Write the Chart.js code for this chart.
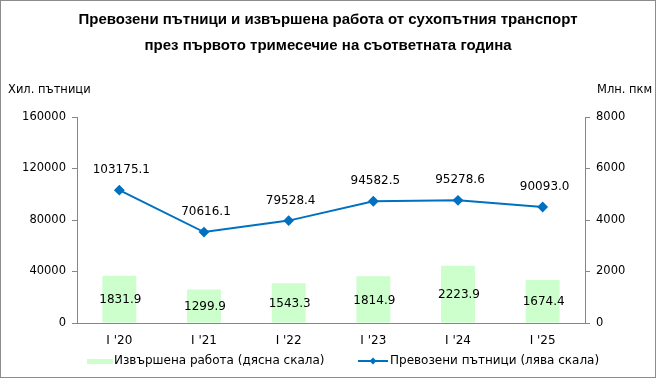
<!DOCTYPE html>
<html>
<head>
<meta charset="utf-8">
<script src="https://cdn.jsdelivr.net/npm/chart.js@4/dist/chart.umd.min.js"></script>
<style>
    html, body { margin: 0; padding: 0; background: #fff; }
    #wrap { position: relative; width: 656px; height: 378px; }
    #wrap canvas { position: absolute; left: 0; top: 0; }
    #frame { position: absolute; left: 0; top: 0; width: 654px; height: 376px; border: 1px solid #8c8c8c; pointer-events: none; }
</style>
</head>
<body>
<div id="wrap">
    <canvas id="chart" width="656" height="378"></canvas>
    <div id="frame"></div>
</div>
<script>
var categories = ["I '20", "I '21", "I '22", "I '23", "I '24", "I '25"];
var passengers = [103175.1, 70616.1, 79528.4, 94582.5, 95278.6, 90093.0];
var work = [1831.9, 1299.9, 1543.3, 1814.9, 2223.9, 1674.4];
var leftTicks = [0, 40000, 80000, 120000, 160000];
var rightTicks = [0, 2000, 4000, 6000, 8000];

var titleLines = ["Превозени пътници и извършена работа от сухопътния транспорт",
    "през първото тримесечие на съответната година"];
var leftTitle = "Хил. пътници";
var rightTitle = "Млн. пкм";
var workLabel = "Извършена работа (дясна скала)";
var passengersLabel = "Превозени пътници (лява скала)";

var barColor = "#ccffcc";
var lineColor = "#0070c0";
var axisColor = "#868686";
var font = "'DejaVu Sans', Verdana, sans-serif";

// titles, axis captions, legend and value labels
var decorPlugin = {
    id: "decor",
    afterDatasetsDraw: function (chart) {
        var ctx = chart.ctx;
        ctx.save();
        ctx.fillStyle = "#000";
        ctx.textAlign = "center";
        ctx.textBaseline = "middle";

        ctx.font = "bold 15px 'Liberation Sans', Arial, sans-serif";
        ctx.fillText(titleLines[0], 328, 20);
        ctx.fillText(titleLines[1], 328, 46);

        ctx.font = "11.5px " + font;
        ctx.textAlign = "left";
        ctx.fillText(leftTitle, 8, 90);
        ctx.fillText(rightTitle, 597, 90);

        // value labels
        ctx.font = "12px " + font;
        ctx.textAlign = "center";
        var barMeta = chart.getDatasetMeta(0);
        barMeta.data.forEach(function (bar, i) {
            ctx.fillText(work[i].toFixed(1), bar.x + 1, (bar.y + bar.base) / 2 + 1);
        });
        var lineMeta = chart.getDatasetMeta(1);
        lineMeta.data.forEach(function (pt, i) {
            ctx.fillText(passengers[i].toFixed(1), pt.x + 2, pt.y - 20);
        });

        // legend
        ctx.font = "12px " + font;
        ctx.textAlign = "left";
        var ly = 361;
        ctx.fillStyle = barColor;
        ctx.fillRect(87, ly - 2, 26, 5);
        ctx.fillStyle = "#000";
        ctx.fillText(workLabel, 114, ly);

        ctx.strokeStyle = lineColor;
        ctx.lineWidth = 2;
        ctx.beginPath();
        ctx.moveTo(358, ly);
        ctx.lineTo(388, ly);
        ctx.stroke();
        ctx.fillStyle = lineColor;
        ctx.beginPath();
        ctx.moveTo(373, ly - 3.5);
        ctx.lineTo(376.5, ly);
        ctx.lineTo(373, ly + 3.5);
        ctx.lineTo(369.5, ly);
        ctx.closePath();
        ctx.fill();
        ctx.fillStyle = "#000";
        ctx.fillText(passengersLabel, 390, ly);
        ctx.restore();
    }
};

function plainTick(value) {
    return String(value);
}

var chart = new Chart(document.getElementById("chart"), {
    data: {
        labels: categories,
        datasets: [
            {
                type: "bar",
                label: workLabel,
                data: work,
                yAxisID: "y1",
                backgroundColor: barColor,
                borderWidth: 0,
                categoryPercentage: 0.8,
                barPercentage: 0.5,
                order: 2
            },
            {
                type: "line",
                label: passengersLabel,
                data: passengers,
                yAxisID: "y",
                borderColor: lineColor,
                backgroundColor: lineColor,
                borderWidth: 2,
                pointStyle: "rectRot",
                pointRadius: 4,
                pointHoverRadius: 4,
                tension: 0,
                order: 1
            }
        ]
    },
    options: {
        responsive: false,
        animation: false,
        events: [],
        layout: { padding: { left: 0, right: 0, top: 117, bottom: 25 } },
        plugins: {
            legend: { display: false },
            title: { display: false },
            tooltip: { enabled: false }
        },
        scales: {
            x: {
                offset: true,
                grid: { display: false },
                border: { display: true, color: axisColor, width: 1 },
                ticks: { color: "#000", font: { family: font, size: 12 }, padding: 3, maxRotation: 0 },
                afterFit: function (scale) { scale.height = 30; }
            },
            y: {
                position: "left",
                min: 0,
                max: 160000,
                afterBuildTicks: function (scale) {
                    scale.ticks = leftTicks.map(function (v) { return { value: v }; });
                },
                grid: { drawOnChartArea: false, color: axisColor, tickLength: 5 },
                border: { display: true, color: axisColor, width: 1 },
                ticks: { color: "#000", font: { family: font, size: 11.5 }, padding: 6, callback: plainTick },
                afterFit: function (scale) { scale.width = 77; }
            },
            y1: {
                position: "right",
                min: 0,
                max: 8000,
                afterBuildTicks: function (scale) {
                    scale.ticks = rightTicks.map(function (v) { return { value: v }; });
                },
                grid: { drawOnChartArea: false, color: axisColor, tickLength: 5 },
                border: { display: true, color: axisColor, width: 1 },
                ticks: { color: "#000", font: { family: font, size: 11.5 }, padding: 6, callback: plainTick },
                afterFit: function (scale) { scale.width = 71; }
            }
        }
    },
    plugins: [decorPlugin]
});
</script>
</body>
</html>
